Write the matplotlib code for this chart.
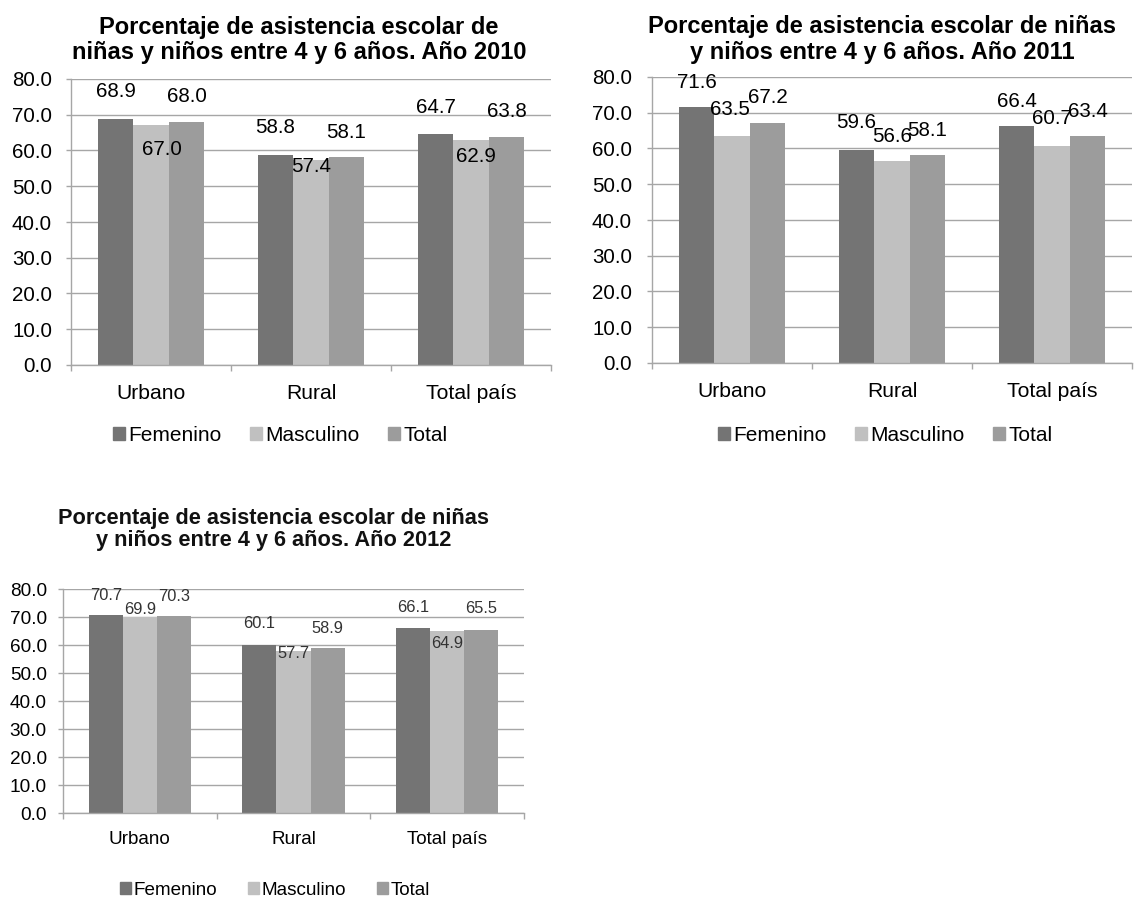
import matplotlib
matplotlib.use("Agg")
import matplotlib.pyplot as plt
from matplotlib.patches import Patch
import numpy as np

plt.rcParams['font.family'] = ['Liberation Sans', 'DejaVu Sans']

# --- Data ---
categories = ["Urbano", "Rural", "Total país"]
series_names = ["Femenino", "Masculino", "Total"]

fem_2010 = [68.9, 58.8, 64.7]
mas_2010 = [67.0, 57.4, 62.9]
tot_2010 = [68.0, 58.1, 63.8]

fem_2011 = [71.6, 59.6, 66.4]
mas_2011 = [63.5, 56.6, 60.7]
tot_2011 = [67.2, 58.1, 63.4]

fem_2012 = [70.7, 60.1, 66.1]
mas_2012 = [69.9, 57.7, 64.9]
tot_2012 = [70.3, 58.9, 65.5]

titles = [
    "Porcentaje de asistencia escolar de\nniñas y niños entre 4 y 6 años. Año 2010",
    "Porcentaje de asistencia escolar de niñas\ny niños entre 4 y 6 años. Año 2011",
    "Porcentaje de asistencia escolar de niñas\ny niños entre 4 y 6 años. Año 2012",
]

yticks = np.arange(0, 81, 10)
COLORS = ["#747474", "#c0c0c0", "#9c9c9c"]
GRID = "#a6a6a6"

# label offsets (px above bar top, per series per category), label x shifts (px)
off_2010 = [[27, 27, 26], [-24, -7, -16], [25, 25, 25]]
dx_2010 = [[0, 0, 0], [11, 0, 5], [0, 0, 0]]
off_2011 = [[25, 27, 24], [26, 24, 27], [25, 25, 25]]
dx_2011 = [[0, 0, 0], [-2, 0, 0], [0, 0, 0]]
off_2012 = [[20, 21, 20], [8, -2, -12], [20, 20, 21]]
dx_2012 = [[0, 0, 0], [0, 0, 0], [0, 0, 0]]

W, H = 1145, 897
fig = plt.figure(figsize=(W / 100, H / 100), dpi=100)


def px_axes(left, top, right, bottom):
    return fig.add_axes([left / W, 1 - bottom / H, (right - left) / W, (bottom - top) / H])


def draw(ax, vals, offs, dxs, fs_tick, fs_cat, fs_lab, ypad, xpad, lab_color):
    x = np.arange(len(categories))
    w = 0.222
    for i, v in enumerate(vals):
        bars = ax.bar(x + (i - 1) * w, v, width=w, color=COLORS[i], zorder=2)
        for j, b in enumerate(bars):
            ax.annotate(f"{v[j]:.1f}", (b.get_x() + b.get_width() / 2, b.get_height()),
                        xytext=(dxs[i][j] * 0.72, offs[i][j] * 0.72), textcoords="offset points",
                        ha="center", va="center", fontsize=fs_lab, color=lab_color, zorder=3)
    ax.set_xlim(-0.5, 2.5)
    ax.set_ylim(0, 80)
    ax.set_yticks(yticks)
    ax.set_yticklabels([f"{t:.1f}" for t in yticks], fontsize=fs_tick)
    ax.yaxis.grid(True, color=GRID, linewidth=1.0, zorder=0)
    ax.set_axisbelow(True)
    for s in ["top", "right"]:
        ax.spines[s].set_visible(False)
    for s in ["left", "bottom"]:
        ax.spines[s].set_color(GRID)
        ax.spines[s].set_linewidth(1.0)
    ax.tick_params(axis="y", length=3.6, color=GRID, width=1.0, pad=ypad)
    ax.set_xticks([-0.5, 0.5, 1.5, 2.5])
    ax.set_xticklabels([])
    ax.tick_params(axis="x", length=4.3, color=GRID, width=1.0)
    ax.set_xticks(x, minor=True)
    ax.set_xticklabels(categories, minor=True, fontsize=fs_cat)
    ax.tick_params(axis="x", which="minor", length=0, pad=xpad)


ax1 = px_axes(71, 79, 551, 365)
draw(ax1, [fem_2010, mas_2010, tot_2010], off_2010, dx_2010, 14.8, 15.2, 14.8, 10, 13.5, "black")
ax2 = px_axes(652, 77, 1132, 363)
draw(ax2, [fem_2011, mas_2011, tot_2011], off_2011, dx_2011, 14.8, 15.2, 14.8, 10.8, 13.5, "black")
ax3 = px_axes(63, 589, 524, 813)
draw(ax3, [fem_2012, mas_2012, tot_2012], off_2012, dx_2012, 13.7, 13.6, 11.8, 8, 13, "#333333")

fig.text(299 / W, 1 - 40 / H, titles[0], ha="center", va="center", fontsize=17,
         fontweight="bold", linespacing=1.12)
fig.text(882 / W, 1 - 39.5 / H, titles[1], ha="center", va="center", fontsize=17,
         fontweight="bold", linespacing=1.12)
fig.text(274 / W, 1 - 529.5 / H, titles[2], ha="center", va="center", fontsize=15.7,
         fontweight="bold", linespacing=1.12, color="#111111")

handles = [Patch(color=c, label=n) for c, n in zip(COLORS, series_names)]
for cx, cy, fs, cs in [(280, 435, 15, 1.35), (885, 435, 15, 1.35), (275, 890, 13.6, 1.6)]:
    fig.legend(handles=handles, loc="center", bbox_to_anchor=(cx / W, 1 - cy / H),
               ncol=3, frameon=False, fontsize=fs, handlelength=0.58, handleheight=0.58,
               handletextpad=0.17, columnspacing=cs, borderpad=0, borderaxespad=0)

fig.savefig("out.png", dpi=100)
